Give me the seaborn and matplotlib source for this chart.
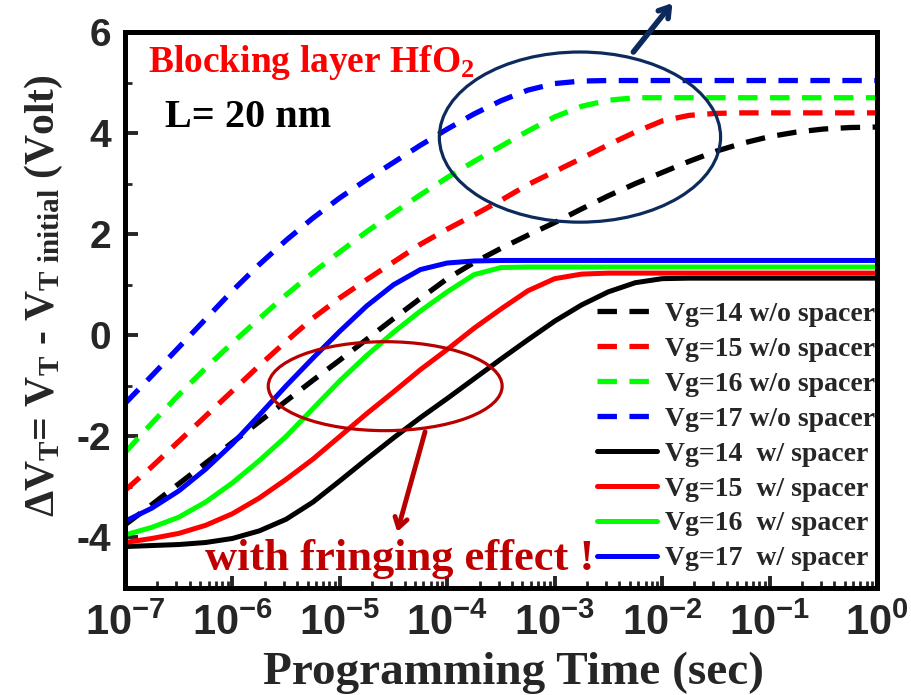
import numpy as np
import matplotlib
matplotlib.use("Agg")
import matplotlib.pyplot as plt
import seaborn as sns
from matplotlib.patches import Ellipse
from matplotlib.ticker import LogLocator, NullFormatter

# ---- threshold-voltage shift vs programming time (log10 of seconds) ----
# w/o spacer
exp_wo14 = [-7, -6.75, -6.5, -6.25, -6, -5.75, -5.5, -5.25, -5, -4.75, -4.5, -4.25, -4,
            -3.75, -3.5, -3.25, -3, -2.75, -2.5, -2.25, -2, -1.75, -1.5, -1.25, -1,
            -0.75, -0.5, -0.25, 0]
dv_wo14 = [-3.75, -3.35, -2.94, -2.53, -2.12, -1.71, -1.3, -0.89, -0.49, -0.08, 0.33, 0.73, 1.12,
           1.44, 1.72, 1.98, 2.23, 2.5, 2.76, 3.0, 3.22, 3.44, 3.64, 3.8, 3.93,
           4.02, 4.08, 4.11, 4.12]

exp_wo15 = [-7, -6.75, -6.5, -6.25, -6, -5.75, -5.5, -5.25, -5, -4.75, -4.5, -4.25, -4,
            -3.75, -3.5, -3.25, -3, -2.75, -2.5, -2.25, -2, -1.75, -1.5, -1.25, 0]
dv_wo15 = [-3.07, -2.6, -2.1, -1.6, -1.1, -0.6, -0.12, 0.34, 0.74, 1.1, 1.45, 1.8, 2.1,
           2.38, 2.67, 2.98, 3.24, 3.5, 3.77, 4.02, 4.24, 4.35, 4.39, 4.4, 4.4]

exp_wo16 = [-7, -6.75, -6.5, -6.25, -6, -5.75, -5.5, -5.25, -5, -4.75, -4.5, -4.25, -4,
            -3.75, -3.5, -3.25, -3, -2.75, -2.5, -2.25, 0]
dv_wo16 = [-2.32, -1.74, -1.18, -0.65, -0.15, 0.33, 0.8, 1.24, 1.65, 2.05, 2.42, 2.78, 3.12,
           3.44, 3.74, 4.04, 4.32, 4.53, 4.65, 4.7, 4.7]

exp_wo17 = [-7, -6.75, -6.5, -6.25, -6, -5.75, -5.5, -5.25, -5, -4.75, -4.5, -4.25, -4,
            -3.75, -3.5, -3.25, -3, -2.75, -2.5, 0]
dv_wo17 = [-1.35, -0.8, -0.24, 0.32, 0.88, 1.4, 1.88, 2.32, 2.72, 3.08, 3.42, 3.76, 4.08,
           4.38, 4.64, 4.85, 4.98, 5.03, 5.04, 5.04]

# w/ spacer
exp_w14 = [-7, -6.5, -6.25, -6, -5.75, -5.5, -5.25, -5, -4.75, -4.5, -4.25, -4, -3.75,
           -3.5, -3.25, -3, -2.75, -2.5, -2.25, -2, -1.75, 0]
dv_w14 = [-4.18, -4.14, -4.1, -4.02, -3.87, -3.64, -3.3, -2.88, -2.45, -2.03, -1.63, -1.25, -0.86,
          -0.47, -0.09, 0.28, 0.6, 0.86, 1.04, 1.12, 1.13, 1.13]

exp_w15 = [-7, -6.75, -6.5, -6.25, -6, -5.75, -5.5, -5.25, -5, -4.75, -4.5, -4.25, -4,
           -3.75, -3.5, -3.25, -3, -2.75, -2.5, 0]
dv_w15 = [-4.1, -4.02, -3.92, -3.76, -3.53, -3.22, -2.85, -2.45, -2.0, -1.55, -1.12, -0.68, -0.28,
          0.14, 0.52, 0.88, 1.12, 1.21, 1.23, 1.23]

exp_w16 = [-7, -6.75, -6.5, -6.25, -6, -5.75, -5.5, -5.25, -5, -4.75, -4.5, -4.25, -4,
           -3.75, -3.5, -3.25, 0]
dv_w16 = [-3.95, -3.8, -3.6, -3.3, -2.92, -2.48, -2.0, -1.45, -0.9, -0.4, 0.06, 0.48, 0.86,
          1.2, 1.34, 1.35, 1.35]

exp_w17 = [-7, -6.75, -6.5, -6.25, -6, -5.75, -5.5, -5.25, -5, -4.75, -4.5, -4.25, -4,
           -3.75, -3.5, 0]
dv_w17 = [-3.68, -3.42, -3.08, -2.65, -2.15, -1.58, -1.0, -0.45, 0.08, 0.58, 1.0, 1.3, 1.43,
          1.47, 1.48, 1.48]

labels_wo = ["Vg=14 w/o spacer", "Vg=15 w/o spacer", "Vg=16 w/o spacer", "Vg=17 w/o spacer"]
labels_w = ["Vg=14  w/ spacer", "Vg=15  w/ spacer", "Vg=16  w/ spacer", "Vg=17  w/ spacer"]
colors = ["#000000", "#ff0000", "#00ff00", "#0000ff"]

xtick_exps = [-7, -6, -5, -4, -3, -2, -1, 0]
ytick_vals = [-4, -2, 0, 2, 4, 6]

sns.set_style("ticks")
plt.rcParams.update({
    "font.family": ["Liberation Serif", "DejaVu Serif"],
    "font.weight": "bold",
    "mathtext.fontset": "custom",
    "mathtext.rm": "Liberation Serif:bold",
    "mathtext.it": "Liberation Serif:bold",
    "mathtext.bf": "Liberation Serif:bold",
    "mathtext.sf": "Liberation Sans:bold",
    "axes.unicode_minus": False,
    "axes.linewidth": 3.6,
    "axes.edgecolor": "black",
    "lines.scale_dashes": False,
})

fig = plt.figure(figsize=(9.12, 6.95), dpi=100)
ax = fig.add_axes([125 / 912, 1 - 588 / 695, 752 / 912, 556 / 695])

dash = (0, (14.0, 9.0))
handles = []
series_wo = [(exp_wo14, dv_wo14), (exp_wo15, dv_wo15), (exp_wo16, dv_wo16), (exp_wo17, dv_wo17)]
series_w = [(exp_w14, dv_w14), (exp_w15, dv_w15), (exp_w16, dv_w16), (exp_w17, dv_w17)]

for (ex, dv), c in zip(series_wo, colors):
    sns.lineplot(x=np.power(10.0, ex), y=dv, color=c, linewidth=3.8,
                 linestyle=dash, ax=ax, legend=False, sort=False)
    ln = ax.lines[-1]
    ln.set_linestyle(dash)
    ln.set_dash_capstyle("butt")
    handles.append(ln)
for (ex, dv), c in zip(series_w, colors):
    sns.lineplot(x=np.power(10.0, ex), y=dv, color=c, linewidth=3.6,
                 ax=ax, legend=False, sort=False)
    handles.append(ax.lines[-1])

ax.set_xscale("log")
ax.set_xlim(1e-7, 1)
ax.set_ylim(-5, 6)

ax.set_xticks([10.0 ** e for e in xtick_exps])
ax.set_xticklabels([r"$\mathsf{10^{%d}}$" % e for e in xtick_exps], fontsize=30)
ax.xaxis.set_minor_locator(LogLocator(base=10, subs=np.arange(2, 10)))
ax.xaxis.set_minor_formatter(NullFormatter())
ax.set_yticks(ytick_vals)
ax.set_yticklabels([str(v) for v in ytick_vals], fontsize=28,
                   fontfamily="Liberation Sans", fontweight="bold")
ax.set_yticks([-3, -1, 1, 3, 5], minor=True)
ax.tick_params(which="major", direction="in", length=9, width=2.8,
               top=False, right=False)
ax.tick_params(which="minor", direction="in", length=5, width=2,
               top=False, right=False)
ax.tick_params(axis="x", which="major", pad=11)
ax.tick_params(axis="y", which="major", pad=10)

ax.set_xlabel("Programming Time (sec)", fontsize=34, fontweight="bold")
ax.xaxis.set_label_coords(0.516, (588 - 684) / 556)
ax.xaxis.label.set_va("baseline")
ax.set_ylabel(r"$\Delta$V$_\mathrm{T}$= V$_\mathrm{T}$ - V$_\mathrm{T\ initial}$ (Volt)",
              fontsize=30, fontweight="bold")
ax.yaxis.set_label_coords(-0.08, 0.525)

ax.legend(handles, labels_wo + labels_w, loc="lower right",
          bbox_to_anchor=(1.02, 0.0), frameon=False,
          prop=dict(family="Liberation Serif", weight="bold", size=20),
          handlelength=2.16, handletextpad=0.28, labelspacing=0.34,
          borderaxespad=0.2)

# annotations
ax.text(0.031, 0.928, r"Blocking layer HfO$_\mathrm{2}$", transform=ax.transAxes,
        color="#ff0000", fontsize=27, fontweight="bold", va="baseline")
ax.text(0.053, 0.829, "L= 20 nm", transform=ax.transAxes,
        color="black", fontsize=29, fontweight="bold", va="baseline")
ax.text(0.106, 0.032, "with fringing effect !", transform=ax.transAxes,
        color="#c00000", fontsize=32, fontweight="bold", va="baseline")

ax.add_patch(Ellipse((0.605, 0.811), 0.374, 0.306, transform=ax.transAxes,
                     fill=False, edgecolor="#0d2a5c", linewidth=2.3, zorder=5))
ax.annotate("", xy=(0.728, 1.052), xytext=(0.676, 0.964),
            xycoords="axes fraction", textcoords="axes fraction",
            annotation_clip=False,
            arrowprops=dict(arrowstyle="->,head_length=0.7,head_width=0.45",
                            color="#0d2a5c", lw=4, shrinkA=0, shrinkB=0))

ax.add_patch(Ellipse((0.346, 0.363), 0.311, 0.160, transform=ax.transAxes,
                     fill=False, edgecolor="#b80000", linewidth=2.3, zorder=5))
ax.annotate("", xy=(0.362, 0.101), xytext=(0.399, 0.281),
            xycoords="axes fraction", textcoords="axes fraction",
            arrowprops=dict(arrowstyle="->,head_length=0.7,head_width=0.45",
                            color="#b80000", lw=3.5, shrinkA=0, shrinkB=0))

fig.savefig("out.png", dpi=100)
